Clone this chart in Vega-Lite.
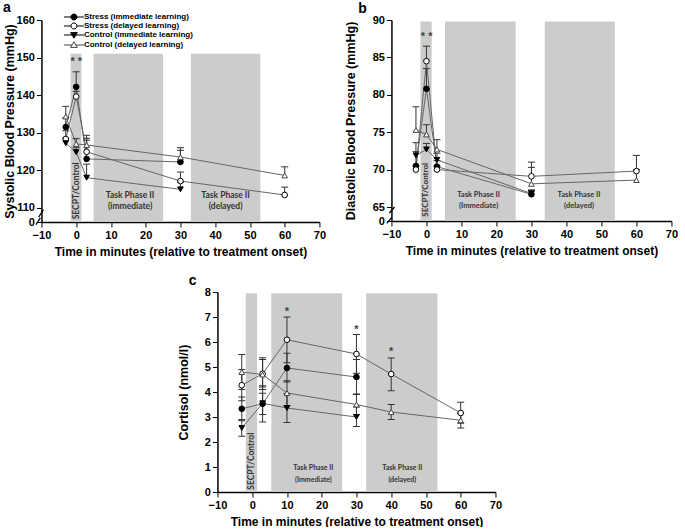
{
  "$schema": "https://vega.github.io/schema/vega-lite/v6.json",
  "padding": {"left": 3, "top": 0, "right": 0, "bottom": 0},
  "config": {
    "view": {"stroke": null},
    "font": "Liberation Sans",
    "scale": {"continuousPadding": 0},
    "axis": {"grid": false, "tickCount": 20, "labelOverlap": false, "labelBound": false, "labelFlush": false, "domainColor": "#000", "domainWidth": 1.5, "tickColor": "#000", "tickWidth": 1, "tickSize": 5, "labelFont": "Liberation Sans", "labelFontSize": 11, "labelFontWeight": "bold", "labelColor": "#000", "labelPadding": 2, "titleFont": "Liberation Sans", "titleFontSize": 12.5, "titleFontWeight": "bold", "titleColor": "#000"},
    "axisX": {"titleFontSize": 12, "titlePadding": 6},
    "title": {"font": "Liberation Sans", "fontSize": 14, "fontWeight": "bold", "color": "#000", "anchor": "start", "frame": "bounds", "baseline": "alphabetic", "offset": -1.5}
  },
  "datasets": {
    "phases_a": [
      {"phase": "SECPT/Control", "start": -1.6, "end": 1.5},
      {"phase": "Task Phase II (immediate)", "start": 5, "end": 25},
      {"phase": "Task Phase II (delayed)", "start": 33, "end": 53}
    ],
    "phases_b": [
      {"phase": "SECPT/Control", "start": -1.7, "end": 1.5},
      {"phase": "Task Phase II (immediate)", "start": 5.3, "end": 25.5},
      {"phase": "Task Phase II (delayed)", "start": 33.8, "end": 53.8}
    ],
    "phases_c": [
      {"phase": "SECPT/Control", "start": -1.85, "end": 1.4},
      {"phase": "Task Phase II (immediate)", "start": 5.5, "end": 25.9},
      {"phase": "Task Phase II (delayed)", "start": 32.8, "end": 53.3}
    ],
    "sys": [
      {"group": "Stress (immediate learning)", "t": -3, "v": 131.5, "hi": 134.0},
      {"group": "Stress (immediate learning)", "t": 0, "v": 142.2, "hi": 146.2},
      {"group": "Stress (immediate learning)", "t": 3, "v": 123.0, "hi": 128.0},
      {"group": "Stress (immediate learning)", "t": 30, "v": 122.2, "hi": 125.3},
      {"group": "Stress (delayed learning)", "t": -3, "v": 128.3, "hi": 130.5},
      {"group": "Stress (delayed learning)", "t": 0, "v": 139.6, "hi": 141.0},
      {"group": "Stress (delayed learning)", "t": 3, "v": 124.9, "hi": 128.5},
      {"group": "Stress (delayed learning)", "t": 30, "v": 117.1, "hi": 119.5},
      {"group": "Stress (delayed learning)", "t": 60, "v": 113.4, "hi": 115.5},
      {"group": "Control (immediate learning)", "t": -3, "v": 127.2, "hi": 128.5},
      {"group": "Control (immediate learning)", "t": 0, "v": 124.8, "hi": 126.0},
      {"group": "Control (immediate learning)", "t": 3, "v": 118.0, "hi": 121.6},
      {"group": "Control (immediate learning)", "t": 30, "v": 114.9, "hi": 116.8},
      {"group": "Control (delayed learning)", "t": -3, "v": 134.3, "hi": 137.0},
      {"group": "Control (delayed learning)", "t": 0, "v": 127.0, "hi": 128.4},
      {"group": "Control (delayed learning)", "t": 3, "v": 126.7, "hi": 129.3},
      {"group": "Control (delayed learning)", "t": 30, "v": 123.5, "hi": 126.0},
      {"group": "Control (delayed learning)", "t": 60, "v": 118.6, "hi": 120.9}
    ],
    "dia": [
      {"group": "Stress (immediate learning)", "t": -3, "v": 70.5, "hi": 72.4},
      {"group": "Stress (immediate learning)", "t": 0, "v": 80.8, "hi": 83.5},
      {"group": "Stress (immediate learning)", "t": 3, "v": 70.4, "hi": 71.2},
      {"group": "Stress (immediate learning)", "t": 30, "v": 66.7, "hi": 67.2},
      {"group": "Stress (delayed learning)", "t": -3, "v": 70.0, "hi": 70.5},
      {"group": "Stress (delayed learning)", "t": 0, "v": 84.5, "hi": 86.5},
      {"group": "Stress (delayed learning)", "t": 3, "v": 70.0, "hi": 70.5},
      {"group": "Stress (delayed learning)", "t": 30, "v": 69.1, "hi": 71.0},
      {"group": "Stress (delayed learning)", "t": 60, "v": 69.8, "hi": 71.9},
      {"group": "Control (immediate learning)", "t": -3, "v": 71.9, "hi": 73.6},
      {"group": "Control (immediate learning)", "t": 0, "v": 72.7, "hi": 73.5},
      {"group": "Control (immediate learning)", "t": 3, "v": 71.3, "hi": 72.2},
      {"group": "Control (immediate learning)", "t": 30, "v": 66.8, "hi": 67.3},
      {"group": "Control (delayed learning)", "t": -3, "v": 75.3, "hi": 78.4},
      {"group": "Control (delayed learning)", "t": 0, "v": 74.7, "hi": 76.0},
      {"group": "Control (delayed learning)", "t": 3, "v": 72.7, "hi": 74.0},
      {"group": "Control (delayed learning)", "t": 30, "v": 68.1, "hi": 70.3},
      {"group": "Control (delayed learning)", "t": 60, "v": 68.6, "hi": 70.0}
    ],
    "cort": [
      {"group": "Stress (immediate learning)", "t": -3, "v": 3.33, "lo": 2.85, "hi": 3.8},
      {"group": "Stress (immediate learning)", "t": 3, "v": 3.53, "lo": 3.1, "hi": 3.95},
      {"group": "Stress (immediate learning)", "t": 10, "v": 4.96, "lo": 4.4, "hi": 5.55},
      {"group": "Stress (immediate learning)", "t": 30, "v": 4.6, "lo": 3.92, "hi": 5.3},
      {"group": "Stress (delayed learning)", "t": -3, "v": 4.27, "lo": 3.65, "hi": 4.9},
      {"group": "Stress (delayed learning)", "t": 3, "v": 4.73, "lo": 4.1, "hi": 5.37},
      {"group": "Stress (delayed learning)", "t": 10, "v": 6.09, "lo": 5.17, "hi": 7.0},
      {"group": "Stress (delayed learning)", "t": 30, "v": 5.52, "lo": 4.75, "hi": 6.3},
      {"group": "Stress (delayed learning)", "t": 40, "v": 4.72, "lo": 4.05, "hi": 5.36},
      {"group": "Stress (delayed learning)", "t": 60, "v": 3.16, "lo": 2.75, "hi": 3.59},
      {"group": "Control (immediate learning)", "t": -3, "v": 2.56, "lo": 2.23, "hi": 2.9},
      {"group": "Control (immediate learning)", "t": 3, "v": 3.55, "lo": 2.8, "hi": 4.25},
      {"group": "Control (immediate learning)", "t": 10, "v": 3.36, "lo": 2.78, "hi": 3.94},
      {"group": "Control (immediate learning)", "t": 30, "v": 3.0, "lo": 2.62, "hi": 3.4},
      {"group": "Control (delayed learning)", "t": -3, "v": 4.8, "lo": 4.1, "hi": 5.5},
      {"group": "Control (delayed learning)", "t": 3, "v": 4.7, "lo": 4.2, "hi": 5.3},
      {"group": "Control (delayed learning)", "t": 10, "v": 3.96, "lo": 3.45, "hi": 4.45},
      {"group": "Control (delayed learning)", "t": 30, "v": 3.5, "lo": 3.1, "hi": 3.9},
      {"group": "Control (delayed learning)", "t": 40, "v": 3.2, "lo": 2.9, "hi": 3.5},
      {"group": "Control (delayed learning)", "t": 60, "v": 2.87, "lo": 2.56, "hi": 3.15}
    ]
  },
  "vconcat": [
    {
      "hconcat": [
        {
          "width": 278, "height": 202,
          "title": {"text": "a", "dx": 0},
          "data": {"values": [{}]},
          "layer": [
            {"data": {"name": "phases_a"}, "mark": {"type": "rect", "color": "#cccccc"},
             "encoding": {"x": {"field": "start", "type": "quantitative"}, "x2": {"field": "end"}, "y": {"datum": 151}, "y2": {"datum": 106.2}}},
            {"mark": {"type": "text", "text": "SECPT/Control", "angle": 270, "font": "Lato", "fontWeight": "bold", "fontSize": 8.5, "color": "#333", "baseline": "middle"},
             "encoding": {"x": {"datum": 0}, "y": {"datum": 114.5}}},
            {"mark": {"type": "text", "text": ["Task Phase II", "(immediate)"], "font": "Lato", "fontWeight": "bold", "fontSize": 8.5, "lineHeight": 11, "color": "#333", "baseline": "middle"},
             "encoding": {"x": {"datum": 15.5}, "y": {"datum": 113.5}}},
            {"mark": {"type": "text", "text": ["Task Phase II", "(delayed)"], "font": "Lato", "fontWeight": "bold", "fontSize": 8.5, "lineHeight": 11, "color": "#333", "baseline": "middle"},
             "encoding": {"x": {"datum": 43}, "y": {"datum": 113.5}}},
            {"mark": {"type": "rule", "color": "#000", "strokeWidth": 1.2, "clip": false},
             "encoding": {"x": {"datum": -10.8}, "x2": {"datum": -9.4}, "y": {"datum": 107.5}, "y2": {"datum": 109.5}}},
            {"mark": {"type": "rule", "color": "#000", "strokeWidth": 1.2, "clip": false},
             "encoding": {"x": {"datum": -11.6}, "x2": {"datum": -10.3}, "y": {"datum": 105.5}, "y2": {"datum": 107.3}}},
            {"data": {"name": "sys"}, "mark": {"type": "line", "color": "#666", "strokeWidth": 1},
             "encoding": {
               "x": {"field": "t", "type": "quantitative", "scale": {"domain": [-10, 70], "nice": false, "padding": 0}, "axis": {"values": [-10, 0, 10, 20, 30, 40, 50, 60, 70], "tickCount": 20, "labelOverlap": false, "title": "Time in minutes (relative to treatment onset)"}},
               "y": {"field": "v", "type": "quantitative", "scale": {"domain": [106.2, 160], "nice": false, "zero": false, "padding": 0}, "axis": {"values": [106.2, 110, 120, 130, 140, 150, 160], "tickCount": 20, "labelOverlap": false, "format": "d", "labelExpr": "datum.value < 108 ? '0' : datum.label", "title": "Systolic Blood Pressure (mmHg)", "titlePadding": 0}},
               "detail": {"field": "group"}}},
            {"data": {"name": "sys"}, "mark": {"type": "rule", "color": "#333", "strokeWidth": 1},
             "encoding": {"x": {"field": "t", "type": "quantitative"}, "y": {"field": "v", "type": "quantitative"}, "y2": {"field": "hi"}}},
            {"data": {"name": "sys"}, "mark": {"type": "tick", "orient": "horizontal", "color": "#333", "size": 7, "thickness": 1, "opacity": 1},
             "encoding": {"x": {"field": "t", "type": "quantitative"}, "y": {"field": "hi", "type": "quantitative"}}},
            {"data": {"name": "sys"}, "mark": {"type": "point", "filled": true, "size": 32, "strokeWidth": 1, "opacity": 1},
             "encoding": {
               "x": {"field": "t", "type": "quantitative"},
               "y": {"field": "v", "type": "quantitative"},
               "shape": {"field": "group", "type": "nominal", "scale": {"domain": ["Stress (immediate learning)", "Stress (delayed learning)", "Control (immediate learning)", "Control (delayed learning)"], "range": ["circle", "circle", "triangle-down", "triangle-up"]}, "legend": null},
               "fill": {"field": "group", "type": "nominal", "scale": {"domain": ["Stress (immediate learning)", "Stress (delayed learning)", "Control (immediate learning)", "Control (delayed learning)"], "range": ["#000", "#fff", "#000", "#fff"]}, "legend": null},
               "stroke": {"field": "group", "type": "nominal", "scale": {"domain": ["Stress (immediate learning)", "Stress (delayed learning)", "Control (immediate learning)", "Control (delayed learning)"], "range": ["#000", "#000", "#000", "#444"]}, "legend": null}}},
            {"data": {"name": "sys"}, "transform": [{"filter": "false"}], "mark": {"type": "point", "filled": true, "size": 36, "strokeWidth": 1, "opacity": 1},
             "encoding": {
               "x": {"field": "t", "type": "quantitative"},
               "y": {"field": "v", "type": "quantitative"},
               "shape": {"field": "group", "type": "nominal", "scale": {"domain": ["Stress (immediate learning)", "Stress (delayed learning)", "Control (immediate learning)", "Control (delayed learning)"], "range": ["M-3.33,0H-1M1,0H3.33M-1,0A1,1,0,1,1,1,0A1,1,0,1,1,-1,0Z", "M-3.33,0H-1M1,0H3.33M-1,0A1,1,0,1,1,1,0A1,1,0,1,1,-1,0Z", "M-3.33,0H-0.65M0.65,0H3.33M-1.13,-0.8L1.13,-0.8L0,1.07Z", "M-3.33,0H-0.65M0.65,0H3.33M-1.13,0.8L1.13,0.8L0,-1.07Z"]},
                 "legend": {"orient": "none", "legendX": 28.5, "legendY": -7, "title": null, "labelFont": "Liberation Sans", "labelFontSize": 8, "labelFontWeight": "bold", "labelColor": "#000", "rowPadding": -2, "labelOffset": 6, "symbolStrokeWidth": 1, "symbolSize": 36, "labelLimit": 300, "padding": 0}},
               "fill": {"field": "group", "type": "nominal", "scale": {"domain": ["Stress (immediate learning)", "Stress (delayed learning)", "Control (immediate learning)", "Control (delayed learning)"], "range": ["#000", "#fff", "#000", "#fff"]}},
               "stroke": {"field": "group", "type": "nominal", "scale": {"domain": ["Stress (immediate learning)", "Stress (delayed learning)", "Control (immediate learning)", "Control (delayed learning)"], "range": ["#000", "#000", "#000", "#444"]}}}},
            {"mark": {"type": "text", "text": "* *", "font": "Liberation Sans", "fontWeight": "bold", "fontSize": 11, "color": "#444", "baseline": "middle"},
             "encoding": {"x": {"datum": 0}, "y": {"datum": 148.7}}}
          ],
          "resolve": {"scale": {"shape": "independent", "fill": "independent", "stroke": "independent"}}
        },
        {
          "width": 280, "height": 201,
          "title": {"text": "b", "dx": 14},
          "data": {"values": [{}]},
          "layer": [
            {"data": {"name": "phases_b"}, "mark": {"type": "rect", "color": "#cccccc"},
             "encoding": {"x": {"field": "start", "type": "quantitative"}, "x2": {"field": "end"}, "y": {"datum": 89.8}, "y2": {"datum": 63.13}}},
            {"mark": {"type": "text", "text": "SECPT/Control", "angle": 270, "font": "Lato", "fontWeight": "bold", "fontSize": 8, "color": "#333", "baseline": "middle"},
             "encoding": {"x": {"datum": 0}, "y": {"datum": 67.3}}},
            {"mark": {"type": "text", "text": ["Task Phase II", "(Immediate)"], "font": "Lato", "fontWeight": "bold", "fontSize": 7.5, "lineHeight": 11, "color": "#333", "baseline": "middle"},
             "encoding": {"x": {"datum": 14.9}, "y": {"datum": 66.6}}},
            {"mark": {"type": "text", "text": ["Task Phase II", "(delayed)"], "font": "Lato", "fontWeight": "bold", "fontSize": 7.5, "lineHeight": 11, "color": "#333", "baseline": "middle"},
             "encoding": {"x": {"datum": 43.6}, "y": {"datum": 66.6}}},
            {"mark": {"type": "rule", "color": "#000", "strokeWidth": 1.2, "clip": false},
             "encoding": {"x": {"datum": -10.6}, "x2": {"datum": -9.1}, "y": {"datum": 64.2}, "y2": {"datum": 65.0}}},
            {"mark": {"type": "rule", "color": "#000", "strokeWidth": 1.2, "clip": false},
             "encoding": {"x": {"datum": -11.3}, "x2": {"datum": -9.9}, "y": {"datum": 62.8}, "y2": {"datum": 63.6}}},
            {"data": {"name": "dia"}, "mark": {"type": "line", "color": "#666", "strokeWidth": 1},
             "encoding": {
               "x": {"field": "t", "type": "quantitative", "scale": {"domain": [-10, 70], "nice": false, "padding": 0}, "axis": {"values": [-10, 0, 10, 20, 30, 40, 50, 60, 70], "tickCount": 20, "labelOverlap": false, "title": "Time in minutes (relative to treatment onset)"}},
               "y": {"field": "v", "type": "quantitative", "scale": {"domain": [63.13, 90], "nice": false, "zero": false, "padding": 0}, "axis": {"values": [63.13, 65, 70, 75, 80, 85, 90], "tickCount": 20, "labelOverlap": false, "format": "d", "labelExpr": "datum.value < 64 ? '0' : datum.label", "title": "Diastolic Blood Pressure (mmHg)", "titlePadding": 15}},
               "detail": {"field": "group"}}},
            {"data": {"name": "dia"}, "mark": {"type": "rule", "color": "#333", "strokeWidth": 1},
             "encoding": {"x": {"field": "t", "type": "quantitative"}, "y": {"field": "v", "type": "quantitative"}, "y2": {"field": "hi"}}},
            {"data": {"name": "dia"}, "mark": {"type": "tick", "orient": "horizontal", "color": "#333", "size": 7, "thickness": 1, "opacity": 1},
             "encoding": {"x": {"field": "t", "type": "quantitative"}, "y": {"field": "hi", "type": "quantitative"}}},
            {"data": {"name": "dia"}, "mark": {"type": "point", "filled": true, "size": 32, "strokeWidth": 1, "opacity": 1},
             "encoding": {
               "x": {"field": "t", "type": "quantitative"},
               "y": {"field": "v", "type": "quantitative"},
               "shape": {"field": "group", "type": "nominal", "scale": {"domain": ["Stress (immediate learning)", "Stress (delayed learning)", "Control (immediate learning)", "Control (delayed learning)"], "range": ["circle", "circle", "triangle-down", "triangle-up"]}, "legend": null},
               "fill": {"field": "group", "type": "nominal", "scale": {"domain": ["Stress (immediate learning)", "Stress (delayed learning)", "Control (immediate learning)", "Control (delayed learning)"], "range": ["#000", "#fff", "#000", "#fff"]}, "legend": null},
               "stroke": {"field": "group", "type": "nominal", "scale": {"domain": ["Stress (immediate learning)", "Stress (delayed learning)", "Control (immediate learning)", "Control (delayed learning)"], "range": ["#000", "#000", "#000", "#444"]}, "legend": null}}},
            {"mark": {"type": "text", "text": "* *", "font": "Liberation Sans", "fontWeight": "bold", "fontSize": 11, "color": "#444", "baseline": "middle"},
             "encoding": {"x": {"datum": 0.05}, "y": {"datum": 87.7}}}
          ]
        }
      ],
      "spacing": 17
    },
    {
      "width": 278, "height": 200,
      "title": {"text": "c", "dx": 11.5},
      "data": {"values": [{}]},
      "layer": [
        {"data": {"name": "phases_c"}, "mark": {"type": "rect", "color": "#cccccc"},
         "encoding": {"x": {"field": "start", "type": "quantitative"}, "x2": {"field": "end"}, "y": {"datum": 7.95}, "y2": {"datum": 0}}},
        {"mark": {"type": "text", "text": "SECPT/Control", "angle": 270, "font": "Lato", "fontWeight": "bold", "fontSize": 8.5, "color": "#333", "baseline": "middle"},
         "encoding": {"x": {"datum": -0.2}, "y": {"datum": 1.23}}},
        {"mark": {"type": "text", "text": ["Task Phase II", "(Immediate)"], "font": "Lato", "fontWeight": "bold", "fontSize": 7, "lineHeight": 11.5, "color": "#333", "baseline": "middle"},
         "encoding": {"x": {"datum": 17.6}, "y": {"datum": 0.96}}},
        {"mark": {"type": "text", "text": ["Task Phase II", "(delayed)"], "font": "Lato", "fontWeight": "bold", "fontSize": 7, "lineHeight": 11.5, "color": "#333", "baseline": "middle"},
         "encoding": {"x": {"datum": 43.2}, "y": {"datum": 0.96}}},
        {"data": {"name": "cort"}, "mark": {"type": "line", "color": "#666", "strokeWidth": 1},
         "encoding": {
           "x": {"field": "t", "type": "quantitative", "scale": {"domain": [-10, 70], "nice": false, "padding": 0}, "axis": {"values": [-10, 0, 10, 20, 30, 40, 50, 60, 70], "tickCount": 20, "labelOverlap": false, "title": "Time in minutes (relative to treatment onset)"}},
           "y": {"field": "v", "type": "quantitative", "scale": {"domain": [0, 8], "nice": false, "padding": 0}, "axis": {"values": [0, 1, 2, 3, 4, 5, 6, 7, 8], "tickCount": 20, "format": "d", "labelOverlap": false, "title": "Cortisol (nmol/l)", "titlePadding": 14}},
           "detail": {"field": "group"}}},
        {"data": {"name": "cort"}, "mark": {"type": "rule", "color": "#333", "strokeWidth": 1},
         "encoding": {"x": {"field": "t", "type": "quantitative"}, "y": {"field": "lo", "type": "quantitative"}, "y2": {"field": "hi"}}},
        {"data": {"name": "cort"}, "mark": {"type": "tick", "orient": "horizontal", "color": "#333", "size": 7, "thickness": 1, "opacity": 1},
         "encoding": {"x": {"field": "t", "type": "quantitative"}, "y": {"field": "hi", "type": "quantitative"}}},
        {"data": {"name": "cort"}, "mark": {"type": "tick", "orient": "horizontal", "color": "#333", "size": 7, "thickness": 1, "opacity": 1},
         "encoding": {"x": {"field": "t", "type": "quantitative"}, "y": {"field": "lo", "type": "quantitative"}}},
        {"data": {"name": "cort"}, "mark": {"type": "point", "filled": true, "size": 32, "strokeWidth": 1, "opacity": 1},
         "encoding": {
           "x": {"field": "t", "type": "quantitative"},
           "y": {"field": "v", "type": "quantitative"},
           "shape": {"field": "group", "type": "nominal", "scale": {"domain": ["Stress (immediate learning)", "Stress (delayed learning)", "Control (immediate learning)", "Control (delayed learning)"], "range": ["circle", "circle", "triangle-down", "triangle-up"]}, "legend": null},
           "fill": {"field": "group", "type": "nominal", "scale": {"domain": ["Stress (immediate learning)", "Stress (delayed learning)", "Control (immediate learning)", "Control (delayed learning)"], "range": ["#000", "#fff", "#000", "#fff"]}, "legend": null},
           "stroke": {"field": "group", "type": "nominal", "scale": {"domain": ["Stress (immediate learning)", "Stress (delayed learning)", "Control (immediate learning)", "Control (delayed learning)"], "range": ["#000", "#000", "#000", "#444"]}, "legend": null}}},
        {"mark": {"type": "text", "text": "*", "font": "Liberation Sans", "fontWeight": "bold", "fontSize": 11, "color": "#444", "baseline": "middle"},
         "encoding": {"x": {"datum": 10}, "y": {"datum": 7.2}}},
        {"mark": {"type": "text", "text": "*", "font": "Liberation Sans", "fontWeight": "bold", "fontSize": 11, "color": "#444", "baseline": "middle"},
         "encoding": {"x": {"datum": 30}, "y": {"datum": 6.5}}},
        {"mark": {"type": "text", "text": "*", "font": "Liberation Sans", "fontWeight": "bold", "fontSize": 11, "color": "#444", "baseline": "middle"},
         "encoding": {"x": {"datum": 40}, "y": {"datum": 5.6}}}
      ]
    }
  ],
  "spacing": 16,
  "center": true
}
